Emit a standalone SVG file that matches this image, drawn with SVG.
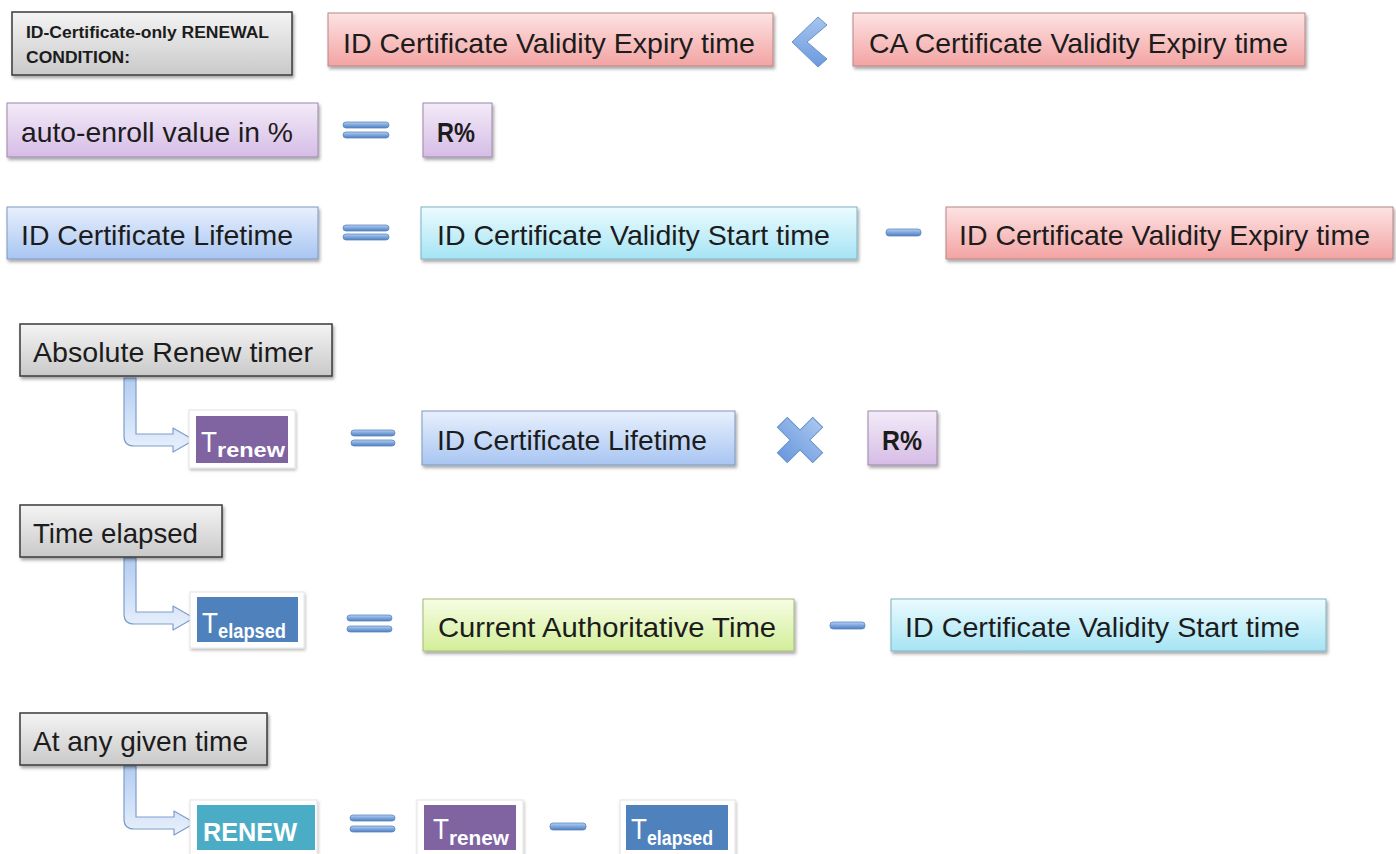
<svg xmlns="http://www.w3.org/2000/svg" width="1396" height="854" viewBox="0 0 1396 854">
<defs>
<linearGradient id="gGray" x1="0" y1="0" x2="0" y2="1"><stop offset="0" stop-color="#f4f4f4"/><stop offset="1" stop-color="#c9c9c9"/></linearGradient>
<linearGradient id="gRed" x1="0" y1="0" x2="0" y2="1"><stop offset="0" stop-color="#fde3e3"/><stop offset="1" stop-color="#f3a3a3"/></linearGradient>
<linearGradient id="gPur" x1="0" y1="0" x2="0" y2="1"><stop offset="0" stop-color="#f3ebf8"/><stop offset="1" stop-color="#d6bce6"/></linearGradient>
<linearGradient id="gBlue" x1="0" y1="0" x2="0" y2="1"><stop offset="0" stop-color="#e8f0fd"/><stop offset="1" stop-color="#a8c5f2"/></linearGradient>
<linearGradient id="gCyan" x1="0" y1="0" x2="0" y2="1"><stop offset="0" stop-color="#ebfbff"/><stop offset="1" stop-color="#a6e4f4"/></linearGradient>
<linearGradient id="gGreen" x1="0" y1="0" x2="0" y2="1"><stop offset="0" stop-color="#f7fde4"/><stop offset="1" stop-color="#d2ee98"/></linearGradient>
<linearGradient id="gBar" x1="0" y1="0" x2="0" y2="1"><stop offset="0" stop-color="#b7d0f2"/><stop offset="0.5" stop-color="#7ea6dc"/><stop offset="1" stop-color="#4d7fc0"/></linearGradient>
<linearGradient id="gArrow" x1="0" y1="0" x2="0" y2="1"><stop offset="0" stop-color="#b3ccf1"/><stop offset="1" stop-color="#e9f1fc"/></linearGradient>
<linearGradient id="gSym" x1="0" y1="0" x2="0" y2="1"><stop offset="0" stop-color="#a6c4ee"/><stop offset="1" stop-color="#6b9ade"/></linearGradient>
<filter id="sh" x="-10%" y="-20%" width="130%" height="160%"><feDropShadow dx="1.5" dy="2.5" stdDeviation="1.8" flood-color="#000" flood-opacity="0.35"/></filter>
<filter id="shl" x="-10%" y="-20%" width="130%" height="160%"><feDropShadow dx="1" dy="2" stdDeviation="1.5" flood-color="#000" flood-opacity="0.25"/></filter>
</defs>
<style>
text{font-family:"Liberation Sans",Arial,sans-serif;fill:#1c1c1c}
.t{font-size:28px}
.b{font-weight:bold}
.gray{fill:url(#gGray);stroke:#3a3a3a;stroke-width:1.5;filter:url(#sh)}
.red{fill:url(#gRed);stroke:#b88686;stroke-width:1;filter:url(#sh)}
.pur{fill:url(#gPur);stroke:#9c88aa;stroke-width:1;filter:url(#sh)}
.blue{fill:url(#gBlue);stroke:#7f97bd;stroke-width:1;filter:url(#sh)}
.cyan{fill:url(#gCyan);stroke:#7fb2c2;stroke-width:1;filter:url(#sh)}
.green{fill:url(#gGreen);stroke:#a3b97a;stroke-width:1;filter:url(#sh)}
.frame{fill:#ffffff;stroke:#e4e4e4;stroke-width:1;filter:url(#shl)}
.bar{fill:url(#gBar);stroke:#5a86c0;stroke-width:0.8}
.sym{fill:url(#gSym);stroke:#6a92c8;stroke-width:1}
.arr{fill:url(#gArrow);stroke:#7e9dcc;stroke-width:1.2;stroke-linejoin:round}
.w{fill:#ffffff}
</style>

<g id="connectors">
<path class="arr" d="M124 378 H136 V434 H173 V428 L194 440 L173 452 V446 H134 Q124 446 124 436 Z"/>
<path class="arr" d="M124 558 H136 V612 H173 V606 L194 618 L173 630 V624 H134 Q124 624 124 614 Z"/>
<path class="arr" d="M124 766 H136 V817 H174 V811 L195 823 L174 835 V829 H134 Q124 829 124 819 Z"/>
</g>

<g id="operators">
<polygon class="sym" points="818,17 827,25 807,42 827,59 818,67 792,42"/>
<rect class="bar" x="343" y="122" width="46" height="6" rx="3"/>
<rect class="bar" x="343" y="132" width="46" height="6" rx="3"/>
<rect class="bar" x="343" y="225" width="46" height="6" rx="3"/>
<rect class="bar" x="343" y="234" width="46" height="6" rx="3"/>
<rect class="bar" x="886" y="229" width="35" height="7" rx="3"/>
<rect class="bar" x="351" y="430" width="44" height="6" rx="3"/>
<rect class="bar" x="351" y="440" width="44" height="6" rx="3"/>
<path class="sym" transform="translate(800 440) rotate(45)" d="M-7,-25 H7 V-7 H25 V7 H7 V25 H-7 V7 H-25 V-7 H-7 Z"/>
<rect class="bar" x="347" y="615" width="45" height="6" rx="3"/>
<rect class="bar" x="347" y="626" width="45" height="6" rx="3"/>
<rect class="bar" x="830" y="622" width="35" height="7" rx="3"/>
<rect class="bar" x="350" y="815" width="45" height="6" rx="3"/>
<rect class="bar" x="350" y="826" width="45" height="6" rx="3"/>
<rect class="bar" x="550" y="823" width="36" height="7" rx="3"/>
</g>

<g id="n-title"><rect class="gray" x="12" y="12" width="280" height="63"/>
<text class="b" x="26" y="38" font-size="16" textLength="243" lengthAdjust="spacingAndGlyphs">ID-Certificate-only RENEWAL</text>
<text class="b" x="26" y="63" font-size="16" textLength="104" lengthAdjust="spacingAndGlyphs">CONDITION:</text></g>

<g id="n-idexp1"><rect class="red" x="328" y="13" width="445" height="53"/>
<text class="t" x="343" y="53" textLength="412" lengthAdjust="spacingAndGlyphs">ID Certificate Validity Expiry time</text></g>

<g id="n-caexp"><rect class="red" x="853" y="13" width="452" height="53"/>
<text class="t" x="869" y="53" textLength="419" lengthAdjust="spacingAndGlyphs">CA Certificate Validity Expiry time</text></g>

<g id="n-auto"><rect class="pur" x="7" y="103" width="311" height="54"/>
<text class="t" x="21" y="142" textLength="272" lengthAdjust="spacingAndGlyphs">auto-enroll value in %</text></g>

<g id="n-r1"><rect class="pur" x="423" y="103" width="69" height="54"/>
<text class="t b" x="437" y="142" font-size="27" textLength="38" lengthAdjust="spacingAndGlyphs">R%</text></g>

<g id="n-life1"><rect class="blue" x="7" y="207" width="311" height="52"/>
<text class="t" x="21" y="245" textLength="272" lengthAdjust="spacingAndGlyphs">ID Certificate Lifetime</text></g>

<g id="n-start1"><rect class="cyan" x="421" y="207" width="436" height="52"/>
<text class="t" x="437" y="245" textLength="393" lengthAdjust="spacingAndGlyphs">ID Certificate Validity Start time</text></g>

<g id="n-idexp2"><rect class="red" x="946" y="207" width="447" height="52"/>
<text class="t" x="959" y="245" textLength="411" lengthAdjust="spacingAndGlyphs">ID Certificate Validity Expiry time</text></g>

<g id="n-abs"><rect class="gray" x="20" y="324" width="312" height="52"/>
<text class="t" x="33" y="362" textLength="280" lengthAdjust="spacingAndGlyphs">Absolute Renew timer</text></g>

<g id="n-trenew1"><rect class="frame" x="189" y="410" width="106" height="58"/>
<rect x="196" y="416" width="92" height="47" fill="#8064a2"/>
<text class="w" x="201" y="452" font-size="29" textLength="16" lengthAdjust="spacingAndGlyphs">T</text>
<text class="w b" x="217" y="457" font-size="20" textLength="68" lengthAdjust="spacingAndGlyphs">renew</text></g>

<g id="n-life2"><rect class="blue" x="422" y="411" width="313" height="54"/>
<text class="t" x="437" y="450" textLength="270" lengthAdjust="spacingAndGlyphs">ID Certificate Lifetime</text></g>

<g id="n-r2"><rect class="pur" x="868" y="411" width="69" height="54"/>
<text class="t b" x="882" y="450" font-size="27" textLength="40" lengthAdjust="spacingAndGlyphs">R%</text></g>

<g id="n-elapsed"><rect class="gray" x="20" y="505" width="202" height="52"/>
<text class="t" x="33" y="543" textLength="165" lengthAdjust="spacingAndGlyphs">Time elapsed</text></g>

<g id="n-telapsed1"><rect class="frame" x="190" y="592" width="114" height="56"/>
<rect x="197" y="597" width="101" height="45" fill="#4f81bd"/>
<text class="w" x="202" y="633" font-size="29" textLength="16" lengthAdjust="spacingAndGlyphs">T</text>
<text class="w b" x="218" y="638" font-size="20" textLength="68" lengthAdjust="spacingAndGlyphs">elapsed</text></g>

<g id="n-current"><rect class="green" x="423" y="599" width="371" height="52"/>
<text class="t" x="438" y="637" textLength="338" lengthAdjust="spacingAndGlyphs">Current Authoritative Time</text></g>

<g id="n-start2"><rect class="cyan" x="891" y="599" width="435" height="52"/>
<text class="t" x="905" y="637" textLength="395" lengthAdjust="spacingAndGlyphs">ID Certificate Validity Start time</text></g>

<g id="n-given"><rect class="gray" x="20" y="713" width="247" height="52"/>
<text class="t" x="33" y="751" textLength="215" lengthAdjust="spacingAndGlyphs">At any given time</text></g>

<g id="n-renew"><rect class="frame" x="190" y="800" width="127" height="60"/>
<rect x="197" y="805" width="118" height="45" fill="#4bacc6"/>
<text class="w b" x="203" y="841" font-size="26" textLength="94" lengthAdjust="spacingAndGlyphs">RENEW</text></g>

<g id="n-trenew2"><rect class="frame" x="417" y="800" width="106" height="60"/>
<rect x="424" y="805" width="92" height="45" fill="#8064a2"/>
<text class="w" x="433" y="839" font-size="29" textLength="16" lengthAdjust="spacingAndGlyphs">T</text>
<text class="w b" x="449" y="845" font-size="20" textLength="60" lengthAdjust="spacingAndGlyphs">renew</text></g>

<g id="n-telapsed2"><rect class="frame" x="620" y="800" width="115" height="60"/>
<rect x="626" y="805" width="102" height="45" fill="#4f81bd"/>
<text class="w" x="631" y="839" font-size="29" textLength="16" lengthAdjust="spacingAndGlyphs">T</text>
<text class="w b" x="647" y="845" font-size="20" textLength="66" lengthAdjust="spacingAndGlyphs">elapsed</text></g>
</svg>
